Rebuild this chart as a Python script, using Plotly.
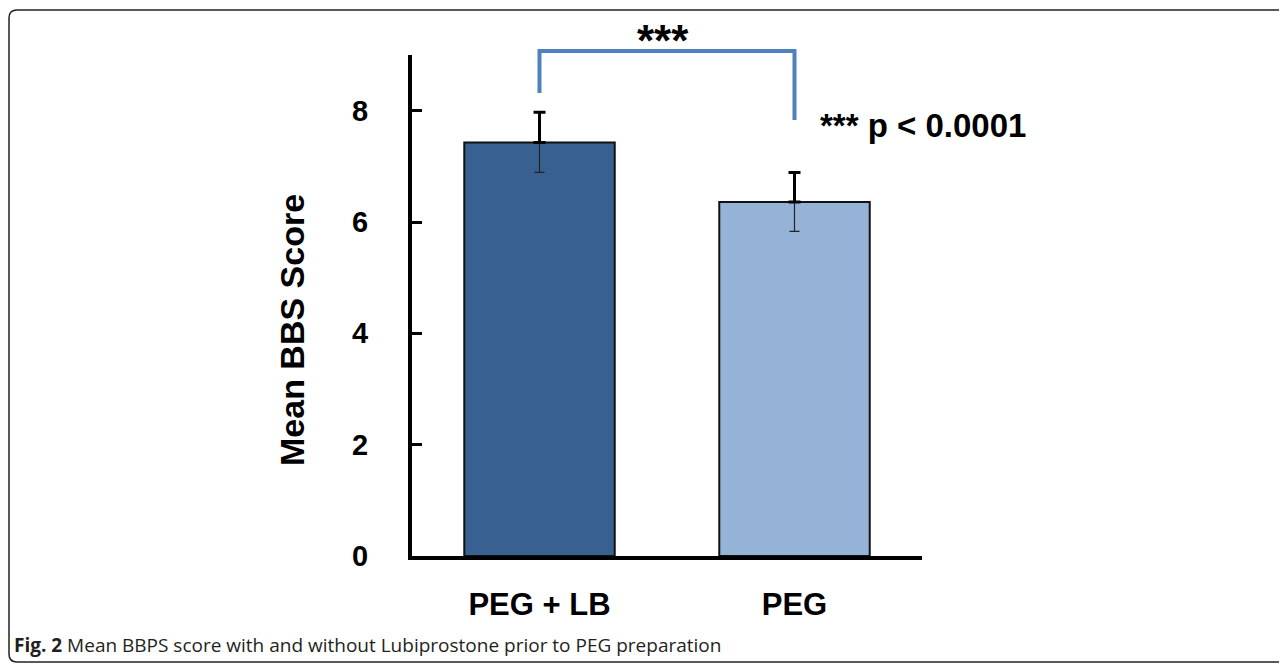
import plotly.graph_objects as go

# ---- data ----
categories = ["PEG + LB", "PEG"]
mean_scores = [7.43, 6.36]
error_values = [0.54, 0.53]
bar_colors = ["#386192", "#95b3d7"]
y_ticks = [0, 2, 4, 6, 8]
y_title = "Mean BBS Score"
sig_label = "***"
p_label = "*** p < 0.0001"
caption_bold = "Fig. 2"
caption_text = " Mean BBPS score with and without Lubiprostone prior to PEG preparation"

# page body has an 8px margin; work in screen pixels
OFF = 8
SCR_W, SCR_H = 1287, 664
PL, PT, PW, PH = 412, 55, 510, 501          # plot area in screen px
W, H = SCR_W - OFF, SCR_H - OFF
L, T = PL - OFF, PT - OFF
R, B = W - L - PW, H - T - PH
XR = [-0.5, 1.5]
YR = [0, 9]

BOLD = "Liberation Sans, Arial, sans-serif"

def px_x(px):
    return (px - PL) / PW

def px_y(py):
    return (PT + PH - py) / PH

def cat_paper(i):
    return (i - XR[0]) / (XR[1] - XR[0])

fig = go.Figure()
fig.add_trace(go.Bar(
    x=categories, y=mean_scores, width=0.59,
    marker=dict(color=bar_colors, line=dict(color="#111111", width=2)),
    error_y=dict(type="data", symmetric=False, array=[0] * len(error_values),
                 arrayminus=error_values, color="#222222", thickness=1.2, width=5),
    showlegend=False, hoverinfo="skip",
))
fig.add_trace(go.Scatter(
    x=categories, y=mean_scores, mode="markers",
    marker=dict(size=1, color="rgba(0,0,0,0)"),
    error_y=dict(type="data", symmetric=False, array=error_values,
                 arrayminus=[0] * len(error_values), color="black", thickness=3, width=6),
    showlegend=False, hoverinfo="skip",
))

# significance bracket
bx0, bx1 = cat_paper(0), cat_paper(1)
fig.add_shape(type="path", xref="paper", yref="paper",
              path=f"M {bx0} {px_y(93)} L {bx0} {px_y(51)} L {bx1} {px_y(51)} L {bx1} {px_y(120)}",
              line=dict(color="#4f81bd", width=4))

# figure frame (rounded)
fx0, fx1 = px_x(9), px_x(1300)
fy0, fy1 = px_y(10), px_y(662)
rx, ry = 8 / PW, 8 / PH
fig.add_shape(type="path", xref="paper", yref="paper",
              path=(f"M {fx0} {fy1 + ry} L {fx0} {fy0 - ry} Q {fx0} {fy0} {fx0 + rx} {fy0} "
                    f"L {fx1 - rx} {fy0} Q {fx1} {fy0} {fx1} {fy0 - ry} "
                    f"L {fx1} {fy1 + ry} Q {fx1} {fy1} {fx1 - rx} {fy1} "
                    f"L {fx0 + rx} {fy1} Q {fx0} {fy1} {fx0} {fy1 + ry} Z"),
              line=dict(color="#222222", width=1.5))

fig.add_annotation(x=(bx0 + bx1) / 2 - 4 / PW, y=px_y(41), xref="paper", yref="paper",
                   xanchor="center", yanchor="middle",
                   text=f"<b>{sig_label}</b>", showarrow=False,
                   font=dict(family=BOLD, size=44, color="black"))
fig.add_annotation(x=px_x(818), y=px_y(126), xref="paper", yref="paper",
                   xanchor="left", yanchor="middle",
                   text=f"<b>{p_label}</b>", showarrow=False,
                   font=dict(family=BOLD, size=33, color="black"))
fig.add_annotation(x=px_x(292), y=px_y(330), xref="paper", yref="paper", textangle=-90,
                   xanchor="center", yanchor="middle",
                   text=f"<b>{y_title}</b>", showarrow=False,
                   font=dict(family=BOLD, size=34, color="black"))
fig.add_annotation(x=px_x(12), y=px_y(645), xref="paper", yref="paper",
                   xanchor="left", yanchor="middle",
                   text=f"<b>{caption_bold}</b>{caption_text}", showarrow=False,
                   font=dict(family="Open Sans, sans-serif", size=19, color="#231f20"))

fig.update_layout(
    width=W, height=H, margin=dict(l=L, r=R, t=T, b=B, pad=0),
    paper_bgcolor="white", plot_bgcolor="white",
    xaxis=dict(range=XR, showline=True, linecolor="black", linewidth=4,
               showgrid=False, zeroline=False, ticks="",
               tickfont=dict(family=BOLD, size=31, color="black", weight="bold"),
               ticklabelstandoff=18),
    yaxis=dict(range=YR, tickvals=y_ticks, showline=True, linecolor="black", linewidth=4,
               showgrid=False, zeroline=False, ticks="inside", ticklen=10, tickwidth=3,
               tickcolor="black",
               tickfont=dict(family=BOLD, size=29, color="black", weight="bold"),
               ticklabelstandoff=34),
)

fig.write_html("out.html")
